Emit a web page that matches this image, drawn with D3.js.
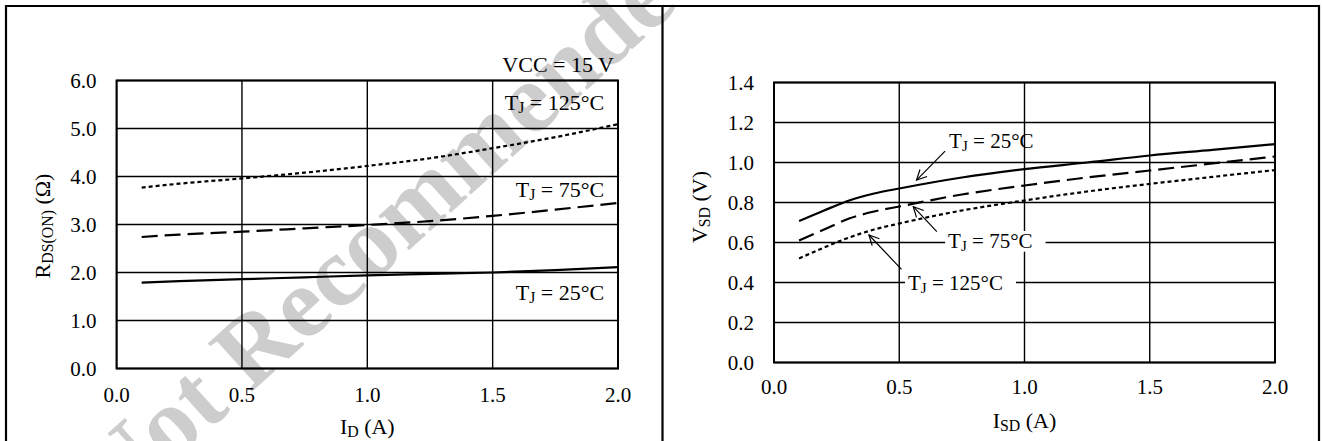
<!DOCTYPE html>
<html lang="en">
<head>
<meta charset="UTF-8">
<title>RDS(ON) and VSD curves</title>
<style>
  body { margin: 0; background: #fff; }
  svg text { font-family: "Liberation Serif", "Times New Roman", serif; fill: #000; }
</style>
</head>
<body>
<script src="https://d3js.org/d3.v7.min.js"></script>
<script>
// ---- data ----
// left: RDS(ON) vs ID
const idVals = [0.1, 0.25, 0.5, 0.75, 1.0, 1.25, 1.5, 1.75, 2.0];
const rds25 = [1.79, 1.82, 1.86, 1.90, 1.94, 1.97, 2.00, 2.05, 2.11];
const rds75 = [2.74, 2.79, 2.85, 2.92, 2.99, 3.07, 3.18, 3.31, 3.45];
const rds125 = [3.77, 3.85, 3.96, 4.08, 4.22, 4.38, 4.59, 4.82, 5.09];
const rdsTicks = [0, 1, 2, 3, 4, 5, 6];

// right: VSD vs ISD
const isdVals = [0.1, 0.2, 0.3, 0.4, 0.5, 0.75, 1.0, 1.25, 1.5, 1.75, 2.0];
const vsd25 = [0.707, 0.76, 0.81, 0.845, 0.87, 0.925, 0.967, 1.0, 1.035, 1.063, 1.092];
const vsd75 = [0.61, 0.665, 0.72, 0.755, 0.78, 0.84, 0.885, 0.925, 0.96, 0.995, 1.03];
const vsd125 = [0.52, 0.575, 0.625, 0.665, 0.695, 0.76, 0.81, 0.855, 0.893, 0.928, 0.962];
const vsdTicks = [0, 0.2, 0.4, 0.6, 0.8, 1.0, 1.2, 1.4];
const xTicks = [0, 0.5, 1.0, 1.5, 2.0];

const dashes = { t25: null, t75: "16,7", t125: "4,3" };

const W = 1322, H = 441;
const svg = d3.select("body").append("svg").attr("width", W).attr("height", H);

svg.append("defs").append("marker")
  .attr("id", "arr").attr("viewBox", "0 0 12 12").attr("refX", 11).attr("refY", 6)
  .attr("markerWidth", 12).attr("markerHeight", 12).attr("markerUnits", "userSpaceOnUse")
  .attr("orient", "auto")
  .append("path").attr("d", "M1,1 L11,6 L1,11").attr("fill", "none")
  .attr("stroke", "#000").attr("stroke-width", 1.2);

// watermark behind everything
svg.append("text")
  .attr("transform", "translate(116,514) rotate(-42)")
  .style("font-size", "100px").style("font-weight", "bold")
  .style("fill", "#cdcdcd")
  .text("Not Recommended");

// outer frames
svg.append("path")
  .attr("d", `M6,${H + 5} V6 H1319 V${H + 5} M662.5,6 V${H + 5}`)
  .attr("fill", "none").attr("stroke", "#000").attr("stroke-width", 2.2);

function subText(sel, parts, size) {
  // parts: [text, isSub]
  parts.forEach(p => {
    const t = sel.append("tspan").text(p[0]);
    if (p[1]) t.attr("baseline-shift", "-18%").style("font-size", (size * 0.72) + "px");
  });
  return sel;
}

function drawChart(o) {
  const g = svg.append("g");
  const x = d3.scaleLinear().domain([0, 2]).range([o.left, o.right]);
  const y = d3.scaleLinear().domain(o.yDomain).range([o.bottom, o.top]);

  // grid
  g.selectAll(".hg").data(o.yTicks).enter().append("line")
    .attr("x1", o.left).attr("x2", o.right)
    .attr("y1", d => y(d)).attr("y2", d => y(d))
    .attr("stroke", "#000").attr("stroke-width", 1.4);
  g.selectAll(".vg").data(xTicks).enter().append("line")
    .attr("y1", o.top).attr("y2", o.bottom)
    .attr("x1", d => x(d)).attr("x2", d => x(d))
    .attr("stroke", "#000").attr("stroke-width", 1.4);
  g.append("rect").attr("x", o.left).attr("y", o.top)
    .attr("width", o.right - o.left).attr("height", o.bottom - o.top)
    .attr("fill", "none").attr("stroke", "#000").attr("stroke-width", 2);

  // tick labels
  g.selectAll(".yl").data(o.yTicks).enter().append("text")
    .attr("x", o.left - 20).attr("y", d => y(d)).attr("dy", "0.35em")
    .attr("text-anchor", "end").style("font-size", "21px")
    .text(d => d.toFixed(1));
  g.selectAll(".xl").data(xTicks).enter().append("text")
    .attr("x", d => x(d)).attr("y", o.bottom + o.xlOff).attr("dy", "0.35em")
    .attr("text-anchor", "middle").style("font-size", "21px")
    .text(d => d.toFixed(1));

  // axis titles
  subText(g.append("text").attr("x", (o.left + o.right) / 2).attr("y", o.xtY)
    .attr("text-anchor", "middle").style("font-size", "22px"), o.xTitle, 22);
  subText(g.append("text")
    .attr("transform", `translate(${o.ytX},${o.ytY}) rotate(-90)`)
    .attr("text-anchor", "middle").style("font-size", "22px"), o.yTitle, 22);

  // curves
  const line = d3.line().x(d => x(d[0])).y(d => y(d[1])).curve(d3.curveMonotoneX);
  o.series.forEach(s => {
    g.append("path").datum(o.xs.map((v, i) => [v, s.vals[i]]))
      .attr("d", line).attr("fill", "none").attr("stroke", "#000")
      .attr("stroke-width", 2.2).attr("stroke-dasharray", s.dash);
  });
  return { g, x, y };
}

// ---- left chart ----
const L = drawChart({
  left: 116.6, right: 618, top: 80.5, bottom: 368.5,
  yDomain: [0, 6], yTicks: rdsTicks, xs: idVals,
  xlOff: 26, xtY: 434, ytX: 50, ytY: 226,
  xTitle: [["I"], ["D", 1], [" (A)"]],
  yTitle: [["R"], ["DS(ON)", 1], [" (Ω)"]],
  series: [
    { vals: rds25, dash: dashes.t25 },
    { vals: rds75, dash: dashes.t75 },
    { vals: rds125, dash: dashes.t125 }
  ]
});

// labels in data units (x, y) right-anchored
const leftLabels = [
  { x: 1.984, y: 6.18, parts: [["VCC = 15 V"]] },
  { x: 1.945, y: 5.39, parts: [["T"], ["J", 1], [" = 125°C"]] },
  { x: 1.945, y: 3.58, parts: [["T"], ["J", 1], [" = 75°C"]] },
  { x: 1.945, y: 1.43, parts: [["T"], ["J", 1], [" = 25°C"]] }
];
leftLabels.forEach(l => {
  subText(L.g.append("text").attr("x", L.x(l.x)).attr("y", L.y(l.y))
    .attr("text-anchor", "end").style("font-size", "22px"), l.parts, 22);
});

// ---- right chart ----
const R = drawChart({
  left: 774, right: 1275, top: 82.5, bottom: 362.5,
  yDomain: [0, 1.4], yTicks: vsdTicks, xs: isdVals,
  xlOff: 24, xtY: 428, ytX: 707, ytY: 207,
  xTitle: [["I"], ["SD", 1], [" (A)"]],
  yTitle: [["V"], ["SD", 1], [" (V)"]],
  series: [
    { vals: vsd25, dash: dashes.t25 },
    { vals: vsd75, dash: dashes.t75 },
    { vals: vsd125, dash: dashes.t125 }
  ]
});

// annotations: label start + arrow tail/tip in data units
const rightNotes = [
  { lx: 0.699, ly: 1.0725, bg: false, tail: [0.683, 1.057], tip: [0.569, 0.912], parts: [["T"], ["J", 1], [" = 25°C"]] },
  { lx: 0.695, ly: 0.5725, bg: true, tail: [0.650, 0.654], tip: [0.556, 0.779], parts: [["T"], ["J", 1], [" = 75°C"]] },
  { lx: 0.535, ly: 0.3625, bg: true, tail: [0.509, 0.466], tip: [0.379, 0.6375], parts: [["T"], ["J", 1], [" = 125°C"]] }
];
rightNotes.forEach(n => {
  const t = subText(R.g.append("text").attr("x", R.x(n.lx)).attr("y", R.y(n.ly))
    .style("font-size", "21px"), n.parts, 21);
  const b = t.node().getBBox();
  if (n.bg) {
    R.g.insert("rect", function () { return t.node(); })
      .attr("x", b.x - 3).attr("y", b.y + 2).attr("width", b.width + 16).attr("height", b.height - 4)
      .attr("fill", "#fff");
  }
  R.g.append("line")
    .attr("x1", R.x(n.tail[0])).attr("y1", R.y(n.tail[1]))
    .attr("x2", R.x(n.tip[0])).attr("y2", R.y(n.tip[1]))
    .attr("stroke", "#000").attr("stroke-width", 1.2).attr("marker-end", "url(#arr)");
});
</script>
</body>
</html>
